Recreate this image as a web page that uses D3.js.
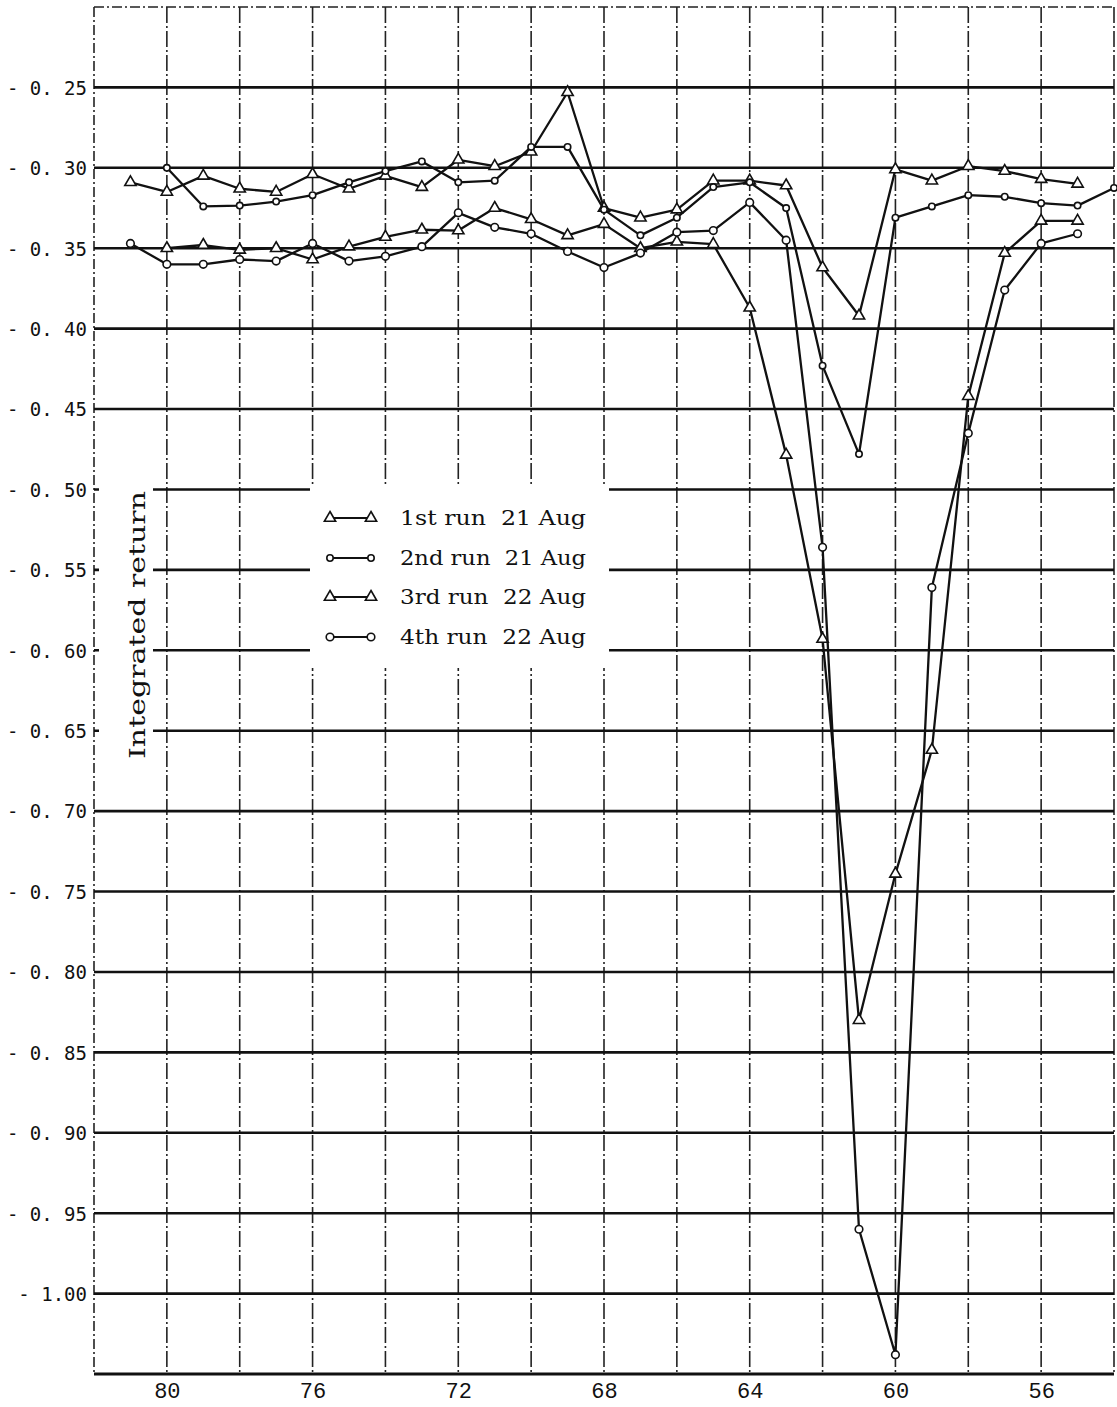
<html>
<head>
<style>
body { margin: 0; background: #fff; }
svg { display: block; }
.grid-h { stroke: #111; stroke-width: 2.6; }
.grid-v { stroke: #222; stroke-width: 1.6; stroke-dasharray: 16,3,2,3; }
.frame { stroke: #222; stroke-width: 1.6; stroke-dasharray: 10,3,2,3; fill: none; }
.series { fill: none; stroke: #111; stroke-width: 2.3; stroke-linejoin: round; }
.mark { fill: #fff; stroke: #111; stroke-width: 1.6; }
.ytick text { font-family: "DejaVu Sans Mono", monospace; font-size: 19px; fill: #111; }
.xtick text { font-family: "Liberation Mono", monospace; font-size: 22px; fill: #111; }
.legend text { font-family: "DejaVu Serif", serif; font-size: 20px; fill: #111; white-space: pre; }
</style>
<script src="https://d3js.org/d3.v7.min.js"></script>
</head>
<body>
<svg id="chart" width="1117" height="1407"></svg>
<script>
// grid / ticks
const xGrid = [80, 78, 76, 74, 72, 70, 68, 66, 64, 62, 60, 58, 56, 54];
const xTicks = [80, 76, 72, 68, 64, 60, 56];
const yTicks = [-0.25, -0.30, -0.35, -0.40, -0.45, -0.50, -0.55, -0.60, -0.65, -0.70,
                -0.75, -0.80, -0.85, -0.90, -0.95, -1.00];
const yTickLabels = ["- 0. 25", "- 0. 30", "- 0. 35", "- 0. 40", "- 0. 45", "- 0. 50",
                     "- 0. 55", "- 0. 60", "- 0. 65", "- 0. 70", "- 0. 75", "- 0. 80",
                     "- 0. 85", "- 0. 90", "- 0. 95", "- 1.00"];

// 1st run 21 Aug (triangles)
const run1X = [81, 80, 79, 78, 77, 76, 75, 74, 73, 72, 71, 70, 69, 68, 67, 66, 65, 64, 63, 62, 61, 60, 59, 58, 57, 56, 55];
const run1Y = [-0.309, -0.315, -0.305, -0.313, -0.315, -0.304, -0.313, -0.305, -0.312, -0.295, -0.299, -0.290, -0.253,
               -0.325, -0.331, -0.326, -0.308, -0.308, -0.311, -0.362, -0.392, -0.301, -0.308, -0.299, -0.302, -0.307, -0.310];

// 2nd run 21 Aug (small circles)
const run2X = [80, 79, 78, 77, 76, 75, 74, 73, 72, 71, 70, 69, 68, 67, 66, 65, 64, 63, 62, 61, 60, 59, 58, 57, 56, 55, 54];
const run2Y = [-0.300, -0.324, -0.3235, -0.321, -0.317, -0.309, -0.302, -0.296, -0.309, -0.308, -0.287, -0.287,
               -0.326, -0.342, -0.331, -0.312, -0.309, -0.325, -0.423, -0.478, -0.331, -0.324, -0.317, -0.318, -0.322, -0.3235, -0.3125];

// 3rd run 22 Aug (triangles)
const run3X = [80, 79, 78, 77, 76, 75, 74, 73, 72, 71, 70, 69, 68, 67, 66, 65, 64, 63, 62, 61, 60, 59, 58, 57, 56, 55];
const run3Y = [-0.350, -0.348, -0.351, -0.350, -0.357, -0.349, -0.343, -0.3385, -0.339, -0.325, -0.332, -0.342,
               -0.335, -0.350, -0.346, -0.3475, -0.387, -0.4785, -0.593, -0.830, -0.739, -0.662, -0.442, -0.353, -0.333, -0.333];

// 4th run 22 Aug (circles)
const run4X = [81, 80, 79, 78, 77, 76, 75, 74, 73, 72, 71, 70, 69, 68, 67, 66, 65, 64, 63, 62, 61, 60, 59, 58, 57, 56, 55];
const run4Y = [-0.347, -0.360, -0.360, -0.357, -0.358, -0.347, -0.358, -0.355, -0.349, -0.328, -0.337, -0.341, -0.352,
               -0.362, -0.353, -0.340, -0.339, -0.3215, -0.345, -0.536, -0.960, -1.038, -0.561, -0.465, -0.376, -0.347, -0.341];

const runNames = ["1st run  21 Aug", "2nd run  21 Aug", "3rd run  22 Aug", "4th run  22 Aug"];

const svg = d3.select("#chart");
const x = d3.scaleLinear().domain([82, 54]).range([94, 1114]);
const y = d3.scaleLinear().domain([-0.20, -1.05]).range([7, 1374]);

const series = [
  {xs: run1X, ys: run1Y, mark: "tri", r: 3.2},
  {xs: run2X, ys: run2Y, mark: "circ", r: 3.2},
  {xs: run3X, ys: run3Y, mark: "tri", r: 3.2},
  {xs: run4X, ys: run4Y, mark: "circ", r: 3.8}
];

// vertical grid (dash-dot)
svg.append("g").selectAll("line").data(xGrid).enter().append("line")
  .attr("class", "grid-v")
  .attr("x1", d => x(d)).attr("x2", d => x(d))
  .attr("y1", y(-0.20)).attr("y2", y(-1.05));

// frame: left + top dash-dot
svg.append("line").attr("class", "frame")
  .attr("x1", x(82)).attr("x2", x(82)).attr("y1", y(-0.20)).attr("y2", y(-1.05));
svg.append("line").attr("class", "frame")
  .attr("x1", x(82)).attr("x2", x(54)).attr("y1", y(-0.20)).attr("y2", y(-0.20));

// horizontal grid (solid)
svg.append("g").selectAll("line").data(yTicks).enter().append("line")
  .attr("class", "grid-h")
  .attr("x1", x(82)).attr("x2", x(54))
  .attr("y1", d => y(d)).attr("y2", d => y(d));

// bottom axis line
svg.append("line").attr("x1", x(82)).attr("x2", x(54))
  .attr("y1", y(-1.05)).attr("y2", y(-1.05))
  .attr("stroke", "#111").attr("stroke-width", 3);

// blank areas behind y label and legend
svg.append("rect").attr("x", 99).attr("y", 470).attr("width", 54).attr("height", 275).attr("fill", "#fff");
svg.append("rect").attr("x", 310).attr("y", 486).attr("width", 299).attr("height", 182).attr("fill", "#fff");

// y tick labels through axis
const yAxis = svg.append("g").attr("class", "ytick")
  .attr("transform", "translate(" + (x(82) - 5) + ",0)")
  .call(d3.axisLeft(y).tickValues(yTicks).tickSize(0).tickPadding(2)
    .tickFormat((d, i) => yTickLabels[i]));
yAxis.select(".domain").remove();
yAxis.selectAll("text").attr("dy", "0.36em");

// x tick labels
const xAxis = svg.append("g").attr("class", "xtick")
  .attr("transform", "translate(0," + (y(-1.05) + 2) + ")")
  .call(d3.axisBottom(x).tickValues(xTicks).tickSize(0).tickPadding(6).tickFormat(d3.format("d")));
xAxis.select(".domain").remove();

// y label
svg.append("text")
  .attr("transform", "translate(145,625) rotate(-90)")
  .attr("text-anchor", "middle")
  .attr("textLength", 268).attr("lengthAdjust", "spacingAndGlyphs")
  .style("font-family", "DejaVu Serif, serif").style("font-size", "23px").style("fill", "#111")
  .text("Integrated return");

const tri = d3.symbol().type(d3.symbolTriangle).size(55);

function drawMark(g, kind, r, cx, cy) {
  if (kind === "tri") {
    g.append("path").attr("class", "mark").attr("d", tri)
      .attr("transform", "translate(" + cx + "," + cy + ")");
  } else {
    g.append("circle").attr("class", "mark").attr("cx", cx).attr("cy", cy).attr("r", r);
  }
}

// series lines + markers
const line = d3.line().x(d => x(d[0])).y(d => y(d[1]));
series.forEach(s => {
  const pts = s.xs.map((v, i) => [v, s.ys[i]]);
  svg.append("path").attr("class", "series").attr("d", line(pts));
  const g = svg.append("g");
  pts.forEach(p => drawMark(g, s.mark, s.r, x(p[0]), y(p[1])));
});

// legend
const legend = svg.append("g").attr("class", "legend");
const rowY = [518, 558, 597, 637];
series.forEach((s, i) => {
  legend.append("line").attr("x1", 330).attr("x2", 371).attr("y1", rowY[i]).attr("y2", rowY[i])
    .attr("stroke", "#111").attr("stroke-width", 2);
  drawMark(legend, s.mark, s.r, 330, rowY[i]);
  drawMark(legend, s.mark, s.r, 371, rowY[i]);
  legend.append("text").attr("x", 400).attr("y", rowY[i] + 7)
    .attr("textLength", 186).attr("lengthAdjust", "spacingAndGlyphs")
    .text(runNames[i]);
});
</script>
</body>
</html>
